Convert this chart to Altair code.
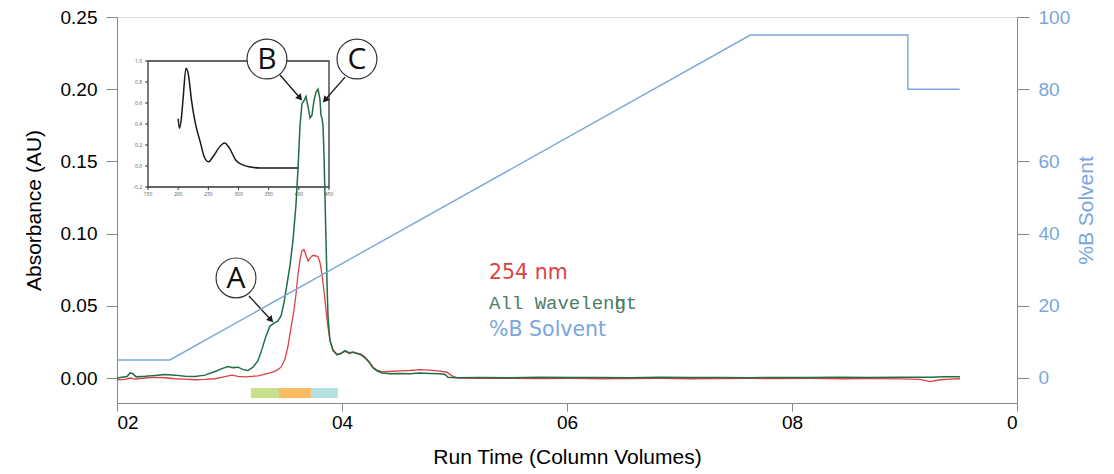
import math
import altair as alt
import pandas as pd

# ---- detector traces: run time (column volumes) vs absorbance (AU) ----
green_cv = [2.000, 2.044, 2.089, 2.116, 2.142, 2.169, 2.249, 2.338, 2.427, 2.516,
            2.604, 2.693, 2.782, 2.871, 2.933, 2.987, 3.031, 3.076, 3.120, 3.164,
            3.209, 3.253, 3.289, 3.324, 3.360, 3.396, 3.431, 3.458, 3.484, 3.511,
            3.538, 3.564, 3.591, 3.609, 3.627, 3.644, 3.662, 3.680, 3.698, 3.716,
            3.733, 3.751, 3.769, 3.787, 3.804, 3.813, 3.822, 3.831, 3.840, 3.849,
            3.858, 3.867, 3.876, 3.893, 3.920, 3.956, 3.991, 4.027, 4.062, 4.098,
            4.133, 4.169, 4.204, 4.240, 4.276, 4.311, 4.356, 4.427, 4.516, 4.604,
            4.693, 4.782, 4.871, 4.916, 4.942, 5.004, 5.227, 5.493, 5.760, 6.027,
            6.293, 6.560, 6.827, 7.093, 7.360, 7.627, 7.893, 8.160, 8.427, 8.693,
            8.960, 9.227, 9.360, 9.493]
green_au = [0.0000, 0.0005, 0.0010, 0.0035, 0.0030, 0.0008, 0.0012, 0.0018, 0.0025, 0.0020,
            0.0012, 0.0010, 0.0020, 0.0045, 0.0065, 0.0080, 0.0072, 0.0075, 0.0058, 0.0052,
            0.0075, 0.0120, 0.0200, 0.0290, 0.0360, 0.0380, 0.0395, 0.0430, 0.0520, 0.0650,
            0.0780, 0.0950, 0.1200, 0.1450, 0.1750, 0.1900, 0.1920, 0.1950, 0.1880, 0.1800,
            0.1820, 0.1920, 0.1980, 0.2000, 0.1930, 0.1820, 0.1800, 0.1750, 0.1550, 0.1250,
            0.0950, 0.0650, 0.0420, 0.0260, 0.0190, 0.0160, 0.0170, 0.0190, 0.0175, 0.0178,
            0.0170, 0.0160, 0.0140, 0.0110, 0.0070, 0.0050, 0.0035, 0.0030, 0.0032, 0.0030,
            0.0035, 0.0032, 0.0030, 0.0025, 0.0005, 0.0002, 0.0004, 0.0002, 0.0005, 0.0003,
            0.0004, 0.0002, 0.0005, 0.0003, 0.0004, 0.0002, 0.0004, 0.0003, 0.0005, 0.0003,
            0.0005, 0.0006, 0.0008, 0.0008]

red_cv = [2.000, 2.071, 2.116, 2.160, 2.249, 2.338, 2.427, 2.516, 2.604, 2.693,
          2.782, 2.871, 2.960, 3.022, 3.076, 3.138, 3.200, 3.253, 3.307, 3.360,
          3.413, 3.458, 3.493, 3.520, 3.547, 3.573, 3.591, 3.609, 3.627, 3.644,
          3.662, 3.680, 3.698, 3.716, 3.742, 3.769, 3.787, 3.804, 3.822, 3.840,
          3.858, 3.876, 3.893, 3.920, 3.956, 3.991, 4.027, 4.062, 4.098, 4.133,
          4.169, 4.204, 4.240, 4.276, 4.311, 4.356, 4.427, 4.516, 4.604, 4.693,
          4.782, 4.871, 4.933, 4.978, 5.031, 5.227, 5.493, 5.760, 6.027, 6.293,
          6.560, 6.827, 7.093, 7.360, 7.627, 7.893, 8.160, 8.427, 8.693, 8.960,
          9.138, 9.227, 9.316, 9.404, 9.493]
red_au = [-0.0012, -0.0010, 0.0000, -0.0008, 0.0000, 0.0005, 0.0002, -0.0005, -0.0008, -0.0012,
          -0.0010, -0.0005, 0.0010, 0.0020, 0.0012, 0.0008, 0.0012, 0.0015, 0.0025, 0.0035,
          0.0050, 0.0075, 0.0130, 0.0220, 0.0350, 0.0470, 0.0580, 0.0720, 0.0820, 0.0880,
          0.0890, 0.0850, 0.0810, 0.0830, 0.0850, 0.0845, 0.0840, 0.0800, 0.0720, 0.0600,
          0.0470, 0.0350, 0.0260, 0.0195, 0.0165, 0.0170, 0.0185, 0.0170, 0.0180, 0.0172,
          0.0165, 0.0145, 0.0115, 0.0075, 0.0055, 0.0042, 0.0045, 0.0050, 0.0052, 0.0058,
          0.0055, 0.0048, 0.0040, 0.0015, 0.0000, -0.0003, -0.0002, -0.0004, -0.0003, -0.0005,
          -0.0004, -0.0003, -0.0005, -0.0004, -0.0003, -0.0004, -0.0003, -0.0005, -0.0004, -0.0006,
          -0.0010, -0.0025, -0.0012, -0.0008, -0.0005]

# ---- gradient program (%B solvent) ----
solvent_cv = [2.00, 2.47, 7.63, 9.03, 9.03, 9.49]
solvent_pct = [5, 5, 95, 95, 80, 80]

# ---- collected fractions ----
frac_start = [3.19, 3.44, 3.724]
frac_end = [3.44, 3.724, 3.964]
frac_colors = ["#c8df8c", "#f8bb62", "#b4e2e0"]
frac_band = [-0.0139, -0.0069]

# ---- UV spectrum of the main peak (wavelength nm vs absorbance) ----
spec_nm = [200, 202, 205, 208, 213, 217, 222, 228, 237, 243, 250, 258, 267, 277,
           285, 295, 307, 320, 337, 370, 400]
spec_abs = [0.45, 0.36, 0.44, 0.63, 0.93, 0.87, 0.63, 0.42, 0.22, 0.09, 0.04, 0.09,
            0.17, 0.22, 0.17, 0.06, 0.01, -0.01, -0.02, -0.02, -0.02]
spec_x_ticks = [150, 200, 250, 300, 350, 400, 450]
spec_y_ticks = [-0.2, 0.0, 0.2, 0.4, 0.6, 0.8, 1.0]

# ---- peak callouts ----
callout_label = ["A", "B", "C"]
callout_cv = [3.058, 3.333, 4.133]
callout_au = [0.0693, 0.2209, 0.2209]
arrow_from_cv = [3.173, 3.449, 4.027]
arrow_from_au = [0.0568, 0.2098, 0.2084]
arrow_to_cv = [3.369, 3.627, 3.849]
arrow_to_au = [0.0402, 0.1939, 0.1925]

# ---- trace key ----
key_text = ["254 nm", "All Wavelengt", "%B Solvent"]
key_au = [0.0727, 0.0519, 0.0332]
key_cv = 5.307

RED = "#dc4146"
GREEN = "#1f6e46"
BLUE = "#7aa6dc"
INK = "#222233"
FONT = "Open Sans"
KEY_FONT = "DejaVu Sans"

PLOT_W, PLOT_H = 900, 386
CV_DOMAIN = [2, 10]
AU_DOMAIN = [-0.0173, 0.25]
PCT_DOMAIN = [-6.93, 100]

x_cv = alt.X("cv:Q", scale=alt.Scale(domain=CV_DOMAIN, nice=False, zero=False),
             axis=alt.Axis(orient="bottom", values=[2, 4, 6, 8, 10],
                           labelExpr="datum.value == 10 ? '0' : '0' + datum.value",
                           title="Run Time (Column Volumes)", grid=False,
                           tickSize=8, labelPadding=2, titlePadding=14,
                           labelFontSize=19, titleFontSize=21, titleFontWeight="normal"))
au_scale = alt.Scale(domain=AU_DOMAIN, nice=False, zero=False)
y_au = alt.Y("au:Q", scale=au_scale,
             axis=alt.Axis(orient="left", values=[0, 0.05, 0.10, 0.15, 0.20, 0.25],
                           format=".2f", title="Absorbance (AU)", grid=False,
                           tickSize=11, labelPadding=9, titlePadding=16,
                           labelFontSize=19, titleFontSize=21, titleFontWeight="normal"))

traces = pd.DataFrame(
    [{"cv": c, "au": a, "i": i, "trace": "254 nm"} for i, (c, a) in enumerate(zip(red_cv, red_au))]
    + [{"cv": c, "au": a, "i": i, "trace": "All"} for i, (c, a) in enumerate(zip(green_cv, green_au))]
)

red_line = alt.Chart(traces).transform_filter("datum.trace == '254 nm'").mark_line(
    color=RED, strokeWidth=1.3).encode(x=x_cv, y=y_au, order="i:Q")
green_line = alt.Chart(traces).transform_filter("datum.trace == 'All'").mark_line(
    color=GREEN, strokeWidth=1.5).encode(x=x_cv, y=y_au, order="i:Q")

fractions = alt.Chart(pd.DataFrame({
    "cv": frac_start, "cv2": frac_end, "color": frac_colors,
    "au": [frac_band[0]] * 3, "au2": [frac_band[1]] * 3,
})).mark_rect().encode(x=x_cv, x2="cv2:Q", y=y_au, y2="au2:Q",
                       color=alt.Color("color:N", scale=None))

arrows_df = pd.DataFrame({
    "cv": arrow_from_cv, "au": arrow_from_au, "cv2": arrow_to_cv, "au2": arrow_to_au,
})
arrows_df["ang"] = [
    math.degrees(math.atan2((a1 - a2) / (AU_DOMAIN[1] - AU_DOMAIN[0]) * PLOT_H,
                            (c2 - c1) / (CV_DOMAIN[1] - CV_DOMAIN[0]) * PLOT_W)) % 360
    for c1, a1, c2, a2 in zip(arrow_from_cv, arrow_from_au, arrow_to_cv, arrow_to_au)
]
arrow_lines = alt.Chart(arrows_df).mark_rule(color="#1a1a1a", strokeWidth=1.3).encode(
    x=x_cv, y=y_au, x2="cv2:Q", y2="au2:Q")
arrow_heads = alt.Chart(arrows_df).mark_point(
    shape="triangle-right", filled=True, color="#1a1a1a", size=55, opacity=1).encode(
    x=alt.X("cv2:Q", scale=alt.Scale(domain=CV_DOMAIN, nice=False, zero=False)),
    y=alt.Y("au2:Q", scale=au_scale),
    angle=alt.Angle("ang:Q", scale=None))

callouts = pd.DataFrame({"cv": callout_cv, "au": callout_au, "label": callout_label})
circles = alt.Chart(callouts).mark_point(
    shape="circle", filled=True, fill="white", stroke="#333333", strokeWidth=1.2,
    size=1590, opacity=1).encode(x=x_cv, y=y_au)
letters = alt.Chart(callouts).mark_text(
    font=FONT, fontSize=30, color="#111111", baseline="middle", align="center", dy=1).encode(
    x=x_cv, y=y_au, text="label:N")

key_df = pd.DataFrame({"cv": [key_cv] * 3, "au": key_au, "label": key_text})
key_254 = alt.Chart(key_df.iloc[[0]]).mark_text(
    font=KEY_FONT, fontSize=20.5, color=RED, align="left", baseline="middle").encode(
    x=x_cv, y=y_au, text="label:N")
key_all = alt.Chart(key_df.iloc[[1]]).mark_text(
    font="Liberation Mono", fontSize=19, color="#4f7d63", align="left", baseline="middle").encode(
    x=x_cv, y=y_au, text="label:N")
key_all_h = alt.Chart(key_df.iloc[[1]]).mark_text(
    font="Liberation Mono", fontSize=19, color="#4f7d63", align="left", baseline="middle",
    dx=11 * 0.6 * 19).encode(x=x_cv, y=y_au, text=alt.value("h"))
key_pct = alt.Chart(key_df.iloc[[2]]).mark_text(
    font=KEY_FONT, fontSize=20.5, color=BLUE, align="left", baseline="middle").encode(
    x=x_cv, y=y_au, text="label:N")

absorbance = alt.layer(fractions, red_line, green_line, arrow_lines, arrow_heads,
                       circles, letters, key_254, key_all, key_all_h, key_pct)

solvent = alt.Chart(pd.DataFrame({
    "cv": solvent_cv, "pct": solvent_pct, "i": list(range(len(solvent_cv)))
})).mark_line(color=BLUE, strokeWidth=1.4).encode(
    x=x_cv,
    y=alt.Y("pct:Q", scale=alt.Scale(domain=PCT_DOMAIN, nice=False, zero=False),
            axis=alt.Axis(orient="right", values=[0, 20, 40, 60, 80, 100],
                          title="%B Solvent", titleAngle=270, titleBaseline="top",
                          grid=False, tickSize=12, labelPadding=9, titlePadding=6,
                          labelColor=BLUE, titleColor=BLUE,
                          labelFontSize=19, titleFontSize=21, titleFontWeight="normal")),
    order="i:Q")

main = alt.layer(absorbance, solvent).resolve_scale(y="independent")

# ---- inset spectrum, placed inside the plot area by its own scales ----
INSET_LEFT, INSET_RIGHT = 31, 212
INSET_TOP, INSET_BOTTOM = 44, 170
wl_lo, wl_hi = spec_x_ticks[0], spec_x_ticks[-1]
ab_lo, ab_hi = spec_y_ticks[0], spec_y_ticks[-1]
wl_per_px = (wl_hi - wl_lo) / (INSET_RIGHT - INSET_LEFT)
ab_per_px = (ab_hi - ab_lo) / (INSET_BOTTOM - INSET_TOP)
inset_x = alt.Scale(domain=[wl_lo - INSET_LEFT * wl_per_px,
                            wl_hi + (PLOT_W - INSET_RIGHT) * wl_per_px], nice=False, zero=False)
inset_y = alt.Scale(domain=[ab_lo - (PLOT_H - INSET_BOTTOM) * ab_per_px,
                            ab_hi + INSET_TOP * ab_per_px], nice=False, zero=False)

box = alt.Chart(pd.DataFrame({"nm": [wl_lo], "nm2": [wl_hi], "ab": [ab_lo], "ab2": [ab_hi]})).mark_rect(
    fill=None, stroke="#333333", strokeWidth=1.3).encode(
    x=alt.X("nm:Q", scale=inset_x, axis=None), x2="nm2:Q",
    y=alt.Y("ab:Q", scale=inset_y, axis=None), y2="ab2:Q")
spectrum = alt.Chart(pd.DataFrame({"nm": spec_nm, "ab": spec_abs, "i": range(len(spec_nm))})).mark_line(
    color="#1a1a1a", strokeWidth=1.5, interpolate="monotone").encode(
    x=alt.X("nm:Q", scale=inset_x, axis=None),
    y=alt.Y("ab:Q", scale=inset_y, axis=None), order="i:Q")

xt = pd.DataFrame({"nm": spec_x_ticks, "ab": [ab_lo] * len(spec_x_ticks),
                   "ab2": [ab_lo - 3 * ab_per_px] * len(spec_x_ticks),
                   "lab": [str(v) for v in spec_x_ticks]})
yt = pd.DataFrame({"nm": [wl_lo] * len(spec_y_ticks), "nm2": [wl_lo - 3 * wl_per_px] * len(spec_y_ticks),
                   "ab": spec_y_ticks, "lab": [f"{v:.1f}" for v in spec_y_ticks]})
x_ticks = alt.Chart(xt).mark_rule(color="#333333", strokeWidth=1).encode(
    x=alt.X("nm:Q", scale=inset_x, axis=None),
    y=alt.Y("ab:Q", scale=inset_y, axis=None), y2="ab2:Q")
y_ticks = alt.Chart(yt).mark_rule(color="#333333", strokeWidth=1).encode(
    x=alt.X("nm:Q", scale=inset_x, axis=None), x2="nm2:Q",
    y=alt.Y("ab:Q", scale=inset_y, axis=None))
x_labels = alt.Chart(xt).mark_text(font=FONT, fontSize=5, color="#555566", baseline="top", dy=5).encode(
    x=alt.X("nm:Q", scale=inset_x, axis=None),
    y=alt.Y("ab:Q", scale=inset_y, axis=None), text="lab:N")
y_labels = alt.Chart(yt).mark_text(font=FONT, fontSize=5, color="#555566", align="right",
                                   baseline="middle", dx=-6).encode(
    x=alt.X("nm:Q", scale=inset_x, axis=None),
    y=alt.Y("ab:Q", scale=inset_y, axis=None), text="lab:N")

inset = alt.layer(box, spectrum, x_ticks, y_ticks, x_labels, y_labels)

chart = alt.layer(inset, main).resolve_scale(x="independent", y="independent").properties(
    width=PLOT_W, height=PLOT_H,
    autosize=alt.AutoSizeParams(type="none"),
    padding={"left": 117, "top": 17, "right": 97, "bottom": 71},
).configure_view(stroke="#222222", strokeWidth=1.3).configure_axis(
    domainColor="#222222", domainWidth=1.3, tickColor="#222222", tickWidth=1.3,
    labelColor=INK, titleColor="#222222", labelFont=FONT, titleFont=FONT,
    titleFontWeight="normal",
).configure(background="white")

chart.save("out.html", embed_options={"renderer": "svg", "actions": False})
